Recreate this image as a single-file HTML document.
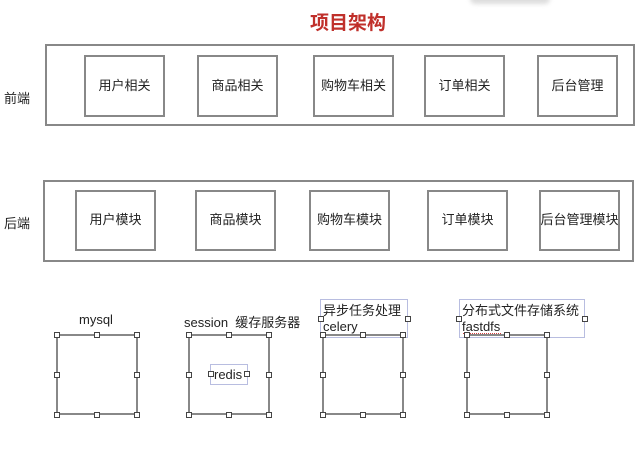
<!DOCTYPE html><html><head><meta charset="utf-8"><style>
body{margin:0;width:640px;height:462px;background:#fff;position:relative;overflow:hidden;font-family:"Liberation Sans","Noto Sans CJK SC",sans-serif;color:#222}
div{position:absolute;box-sizing:border-box}
.b{border:2px solid #888}
.t{font-size:13px;display:flex;align-items:center;justify-content:center;padding-bottom:4px}
.h{width:6px;height:6px;border:1px solid #444;background:#fff}
.l{font-size:13px;white-space:nowrap}
</style></head><body>
<div style="left:470px;top:-6px;width:80px;height:10px;background:#ddd;border-radius:6px;filter:blur(2px)"></div>
<div class="l" style="left:310px;top:8px;font-size:19px;font-weight:bold;color:#c0302b">项目架构</div>
<div class="l" style="left:4px;top:88px">前端</div>
<div class="b" style="left:45px;top:44px;width:590px;height:82px"></div>
<div class="b t" style="left:84px;top:55px;width:81px;height:62px">用户相关</div>
<div class="b t" style="left:197px;top:55px;width:81px;height:62px">商品相关</div>
<div class="b t" style="left:313px;top:55px;width:81px;height:62px">购物车相关</div>
<div class="b t" style="left:424px;top:55px;width:81px;height:62px">订单相关</div>
<div class="b t" style="left:537px;top:55px;width:81px;height:62px">后台管理</div>
<div class="l" style="left:4px;top:213px">后端</div>
<div class="b" style="left:43px;top:180px;width:591px;height:82px"></div>
<div class="b t" style="left:75px;top:190px;width:81px;height:61px">用户模块</div>
<div class="b t" style="left:195px;top:190px;width:81px;height:61px">商品模块</div>
<div class="b t" style="left:309px;top:190px;width:81px;height:61px">购物车模块</div>
<div class="b t" style="left:427px;top:190px;width:81px;height:61px">订单模块</div>
<div class="b t" style="left:539px;top:190px;width:81px;height:61px;white-space:nowrap">后台管理模块</div>

<div class="l" style="left:79px;top:312px">mysql</div>
<div class="l" style="left:184px;top:312px">session&nbsp; 缓存服务器</div>
<div style="left:320px;top:299px;width:88px;height:39px;border:1px solid #b8bde0"></div>
<div class="l" style="left:323px;top:303px;line-height:16px">异步任务处理<br>celery</div>
<div style="left:459px;top:299px;width:126px;height:39px;border:1px solid #b8bde0"></div>
<div class="l" style="left:462px;top:303px;line-height:16px">分布式文件存储系统<br>fastdfs</div>
<div style="left:463px;top:333px;width:38px;height:1px;border-top:1px dotted #d04040"></div>

<script>
var xs=[56,188,322,466];
xs.forEach(function(x){
 var d=document.createElement('div');d.className='b';d.style.cssText='left:'+x+'px;top:334px;width:82px;height:81px';document.body.appendChild(d);
 [[0,0],[40,0],[80,0],[0,40],[80,40],[0,80],[40,80],[80,80]].forEach(function(p){
  var h=document.createElement('div');h.className='h';h.style.left=(x+p[0]-2)+'px';h.style.top=(334+p[1]-2)+'px';document.body.appendChild(h);});
});
</script>
<div style="left:210px;top:364px;width:38px;height:21px;border:1px solid #b8bde0"></div>
<div class="l" style="left:214px;top:367px">redis</div>
<div class="h" style="left:208px;top:371px"></div><div class="h" style="left:244px;top:371px"></div>
<div class="h" style="left:318px;top:316px"></div><div class="h" style="left:405px;top:316px"></div>
<div class="h" style="left:456px;top:316px"></div><div class="h" style="left:582px;top:316px"></div>
</body></html>
